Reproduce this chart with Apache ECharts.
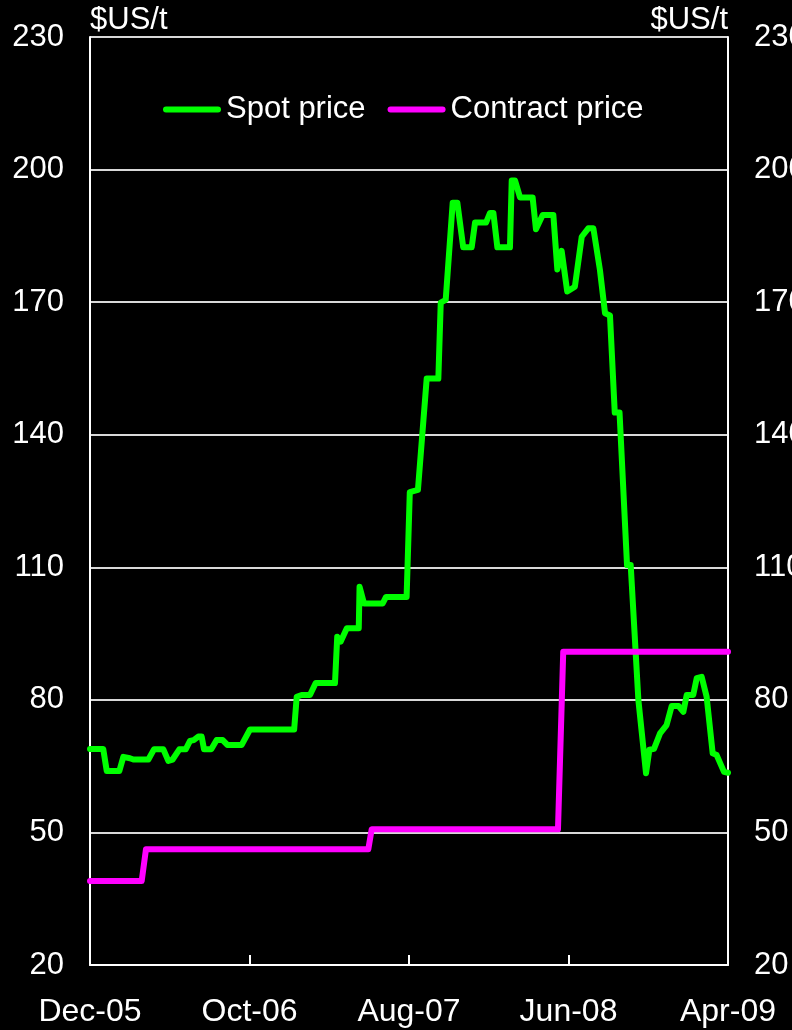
<!DOCTYPE html>
<html>
<head>
<meta charset="utf-8">
<script src="https://cdn.jsdelivr.net/npm/echarts@6/dist/echarts.min.js"></script>
<style>
  html, body { margin: 0; padding: 0; background: #000; }
  #chart { width: 792px; height: 1030px; }
</style>
</head>
<body>
<div id="chart"></div>
<script>
// x positions are months since Dec-05
const xTickLabels = ['Dec-05', 'Oct-06', 'Aug-07', 'Jun-08', 'Apr-09']

const spotMonth = [
  0, 0.83, 1.05, 1.84, 2.09, 2.5, 2.72, 3.66, 4.01, 4.6,
  4.91, 5.18, 5.6, 6.0, 6.27, 6.5, 6.79, 7.0, 7.15, 7.6,
  7.94, 8.32, 8.61, 9.51, 10.03, 12.8, 12.96, 13.27, 13.79, 14.15,
  15.36, 15.5, 15.72, 16.1, 16.85, 16.9, 17.18, 18.35, 18.56, 19.85,
  20.05, 20.56, 21.11, 21.84, 21.99, 22.3, 22.74, 23.03, 23.4, 23.93,
  24.14, 24.83, 25.08, 25.29, 25.54, 26.33, 26.44, 26.65, 26.96, 27.75,
  27.96, 28.38, 29.05, 29.3, 29.57, 29.92, 30.4, 30.83, 31.24, 31.56,
  31.97, 32.29, 32.6, 32.9, 33.2, 33.67, 33.9, 34.38, 34.86, 35.07,
  35.36, 35.74, 36.15, 36.47, 36.9, 37.2, 37.41, 37.82, 38.04, 38.35,
  38.66, 39.04, 39.29, 39.75, 40
]
const spotPrice = [
  68.9, 68.9, 63.9, 63.9, 67.1, 66.8, 66.5, 66.5, 68.8, 68.8,
  66.2, 66.5, 68.8, 68.8, 70.7, 70.9, 71.7, 71.7, 68.8, 68.8,
  70.9, 70.9, 69.8, 69.8, 73.3, 73.3, 80.7, 81.1, 81.1, 83.8,
  83.8, 94.3, 93.2, 96.2, 96.2, 105.6, 101.8, 101.8, 103.3, 103.3,
  127.0, 127.5, 152.7, 152.7, 169.9, 170.5, 192.5, 192.5, 182.4, 182.4,
  188.0, 188.0, 190.2, 190.2, 182.4, 182.4, 197.5, 197.5, 193.7, 193.7,
  186.5, 189.7, 189.7, 177.4, 181.6, 172.4, 173.5, 184.8, 186.7, 186.7,
  177.3, 167.5, 167.0, 145.0, 145.0, 110.5, 110.5, 80.0, 63.4, 68.7,
  68.9, 72.4, 74.3, 78.6, 78.6, 77.3, 81.1, 81.1, 84.9, 85.2,
  80.7, 67.9, 67.5, 63.7, 63.5
]

const contractMonth = [0, 3.24, 3.51, 17.45, 17.66, 29.34, 29.67, 40]
const contractPrice = [39.0, 39.0, 46.2, 46.2, 50.7, 50.7, 90.9, 90.9]

const zip = (xs, ys) => xs.map((x, i) => [x, ys[i]])

const chart = echarts.init(document.getElementById('chart'), null, { renderer: 'canvas' })

const font = 'Liberation Sans, Arial, sans-serif'
const legendIcon = 'path://M3,0 L55,0 A3,3 0 0 1 55,6 L3,6 A3,3 0 0 1 3,0 Z'

const yAxisBase = {
  type: 'value',
  min: 20,
  max: 230,
  interval: 30,
  name: '$US/t',
  nameLocation: 'end',
  nameGap: 1,
  axisLine: { show: true, lineStyle: { color: '#fff', width: 2 } },
  axisTick: { show: false },
  axisLabel: { color: '#fff', fontSize: 31, fontFamily: font, margin: 26 }
}

const option = {
  backgroundColor: '#000',
  animation: false,
  grid: { left: 90, right: 64, top: 37, bottom: 65, outerBoundsMode: 'none', containLabel: false },
  legend: {
    top: 89,
    left: 158,
    itemWidth: 58,
    itemHeight: 6,
    itemGap: 22,
    textStyle: { color: '#fff', fontSize: 31, fontFamily: font },
    data: [
      { name: 'Spot price', icon: legendIcon },
      { name: 'Contract price', icon: legendIcon }
    ]
  },
  xAxis: {
    type: 'value',
    min: 0,
    max: 40,
    interval: 10,
    axisLine: { show: true, lineStyle: { color: '#fff', width: 2 } },
    axisTick: { show: true, inside: true, length: 10, lineStyle: { color: '#fff', width: 2 } },
    splitLine: { show: false },
    axisLabel: {
      color: '#fff',
      fontSize: 32,
      fontFamily: font,
      margin: 31,
      formatter: (v) => xTickLabels[Math.round(v / 10)] || ''
    }
  },
  yAxis: [
    Object.assign({}, yAxisBase, {
      position: 'left',
      nameTextStyle: { color: '#fff', fontSize: 31, fontFamily: font, align: 'left' },
      splitLine: { show: true, lineStyle: { color: '#d8d8d8', width: 2 } }
    }),
    Object.assign({}, yAxisBase, {
      position: 'right',
      nameTextStyle: { color: '#fff', fontSize: 31, fontFamily: font, align: 'right' },
      splitLine: { show: false }
    })
  ],
  series: [
    {
      name: 'Spot price',
      type: 'line',
      data: zip(spotMonth, spotPrice),
      showSymbol: false,
      symbol: 'none',
      color: '#00ff00',
      lineStyle: { color: '#00ff00', width: 6, join: 'round', cap: 'round' }
    },
    {
      name: 'Contract price',
      type: 'line',
      data: zip(contractMonth, contractPrice),
      showSymbol: false,
      symbol: 'none',
      color: '#ff00ff',
      lineStyle: { color: '#ff00ff', width: 6, join: 'round', cap: 'round' }
    }
  ]
}

chart.setOption(option)
</script>
</body>
</html>
